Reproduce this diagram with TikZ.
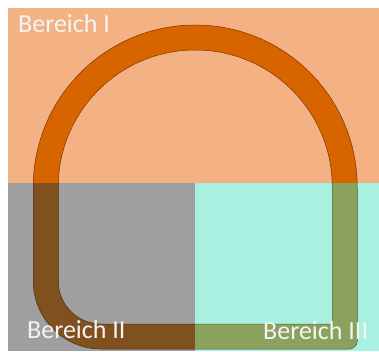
\documentclass[tikz,border=0pt]{standalone}
\usepackage{fontspec}
\setmainfont{Carlito}
\usepackage{xcolor}
\definecolor{bgorange}{HTML}{F4B183}
\definecolor{bggray}{HTML}{9F9F9F}
\definecolor{bgcyan}{HTML}{A8F0E0}
\definecolor{trackorange}{HTML}{D86400}
\definecolor{trackbrown}{HTML}{80501F}
\definecolor{trackolive}{HTML}{8AA25E}
\definecolor{lbltext}{HTML}{F4F4F4}

\tikzset{
  track/.style={even odd rule,line width=0.5pt,insert path={
    (33.25,164) -- (33.25,70) arc[start angle=180,end angle=270,radius=68]
    -- (349.25,2) arc[start angle=-90,end angle=0,radius=8]
    -- (357.25,164) arc[start angle=0,end angle=180,radius=162] -- cycle
    (58.25,164) -- (58.25,70) arc[start angle=180,end angle=270,radius=43]
    -- (332.25,27) -- (332.25,164) arc[start angle=0,end angle=180,radius=137] -- cycle}},
  lbl/.style={text=lbltext,inner sep=0pt,anchor=base west,font=\fontsize{26}{30}\selectfont}
}

\begin{document}
\begin{tikzpicture}[x=1pt,y=1pt]
  \useasboundingbox[fill=white] (0,0) rectangle (379,351);
  \fill[bgorange] (8,168) rectangle (379,343);
  \fill[bggray] (8,0) rectangle (195,168);
  \fill[bgcyan] (195,0) rectangle (379,168);
  \begin{scope}
    \clip (8,168) rectangle (379,343);
    \filldraw[fill=trackorange,draw=trackorange!55!black,track];
  \end{scope}
  \begin{scope}
    \clip (8,0) rectangle (195,168);
    \filldraw[fill=trackbrown,draw=trackbrown!60!black,track];
  \end{scope}
  \begin{scope}
    \clip (195,0) rectangle (379,168);
    \filldraw[fill=trackolive,draw=trackolive!60!black,track];
  \end{scope}
  \node[lbl] (reg1) at (18,318) {Bereich I};
  \node[lbl] (reg2) at (27,13) {Bereich II};
  \node[lbl] (reg3) at (263,12) {Bereich III};
\end{tikzpicture}
\end{document}
